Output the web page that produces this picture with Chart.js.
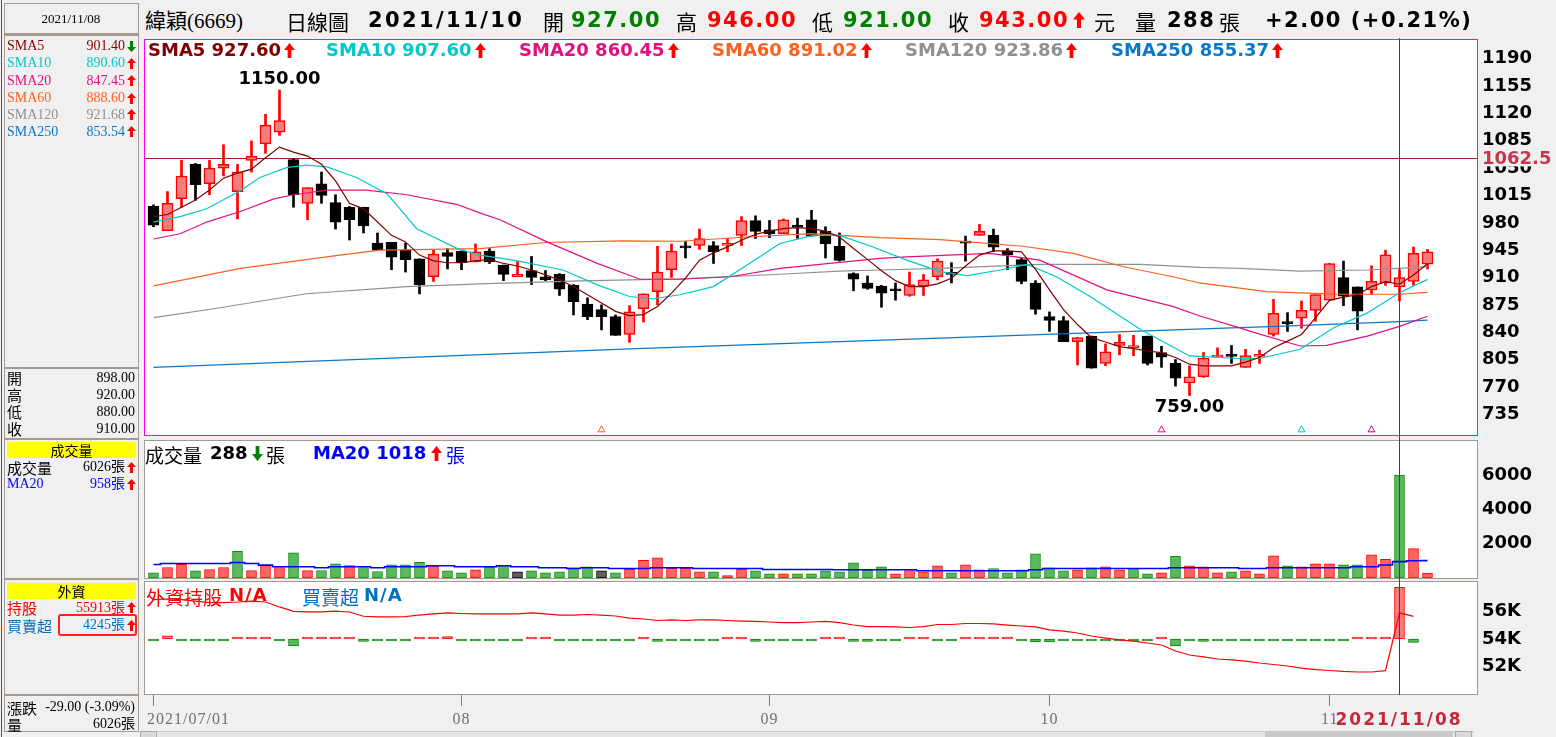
<!DOCTYPE html>
<html lang="zh-Hant"><head><meta charset="utf-8">
<title>緯穎(6669) 日線圖</title>
<script src="https://cdn.jsdelivr.net/npm/chart.js@4.4.1/dist/chart.umd.min.js"></script>
<style>
html,body{margin:0;padding:0}
body{width:1556px;height:737px;background:#f0f0f0;overflow:hidden;position:relative;font-family:"Liberation Serif","Noto Sans CJK TC",serif;color:#000}
canvas{position:absolute;left:140px}
.t{position:absolute;white-space:nowrap;line-height:1}
.bd{font-family:"DejaVu Sans","Noto Sans CJK TC",sans-serif;font-weight:bold}
.cj{font-family:"Noto Sans CJK TC",sans-serif}
.ybox{position:absolute;left:7px;width:129px;height:16px;background:#ffff00;font-family:"Noto Sans CJK TC",sans-serif;font-size:14px;line-height:16px;text-align:center}
</style></head><body>
<canvas id="cP" width="1416" height="405" style="top:35px"></canvas>
<canvas id="cV" width="1416" height="143" style="top:438px"></canvas>
<canvas id="cF" width="1416" height="158" style="top:579px"></canvas>
<div id="ov"></div>
<script>
// ---------------- DATA ----------------
const monthTickIdx = [0, 22, 44, 64, 84];
const monthTickLabels = ['2021/07/01', '08', '09', '10', '11'];
const cursorIdx = 89;
const cursorLabel = '2021/11/08';
const refLine = 1062.5;

const openP = [1001,970,1011,1055,1030,1050,1020,1060,1081,1096, 1061,1005,1030,1006,1000,1000,954,955,945,934, 911,942,944,930,944,926,911,919,911,914, 900,876,869,860,837,870,892,920,949,951, 951,951,964,983,971,966,977,984,969,950, 915,903,899,893,887,899,911,915,955,964, 964,944,933,903,860,855,828,835,800,823, 820,835,814,800,775,783,808,809.5,795,809, 837,851.5,858,868,881,910,898,894,903,898, 905,927];
const highP = [1003,1020,1060,1056,1060,1080,1055,1085,1119,1150, 1062,1025,1045,1016,1001,1000,967,955,954,934, 945,947,944,953,947,926,931,937,919,915, 901,884,875,862,874,889,950,953,956,972, 956,960,988,989,983,985,986,996,975,967, 916,912,900,903,917,914,934,929,963,978, 972,947,935,906,866,860,833,835,825,837, 836,835,822,805,797,814,820,823,818,817, 882,865,880,888,928,931,898,925,945,920, 949,946];
const lowP = [975,970,1000,1009,1016,1040,985,1045,1069,1092, 1000,984,1005,972,958,967,945,920,917,889, 905,921,920,930,928,906,911,901,906,887, 862,856,843,836,827,853,875,910,935,946, 928,943,951,960,961,966,960,963,935,931, 893,895,872,881,886,887,907,903,931,964, 943,920,902,863,841,828,798,794,797,811, 810,798,795,771,759,782,808,800,795,800, 835,841,845,854,881,874,843,888,900,880, 900,921];
const closeP = [977,1005,1040,1029,1050,1055,1045,1065,1105,1111, 1016,1025,1015,981,984,976,945,936,933,901, 940,937,929,943,930,914,914,910,907,895, 879,860,860,836,866,889,917,944,948,960, 943,954,983,969,966,984,974,963,953,932, 908,896,890,893,901,907,931,914,954,969, 949,939,905,869,855,828,833,794,815,827, 823,800,808,781,783,807,810,809,810,810.5, 864,851,868,888,928,886,867,905,939,910, 941,943];

const sma5 = [988,990.7,1000,1009.3,1022,1037.2,1043.6,1048.7,1063.4,1077, 1070.6,1065.5,1055,1033.8,1005,997.9,981,964,955.6,938.7, 931.4,928.9,929,931.4,933.2,928,924.7,919.6,913.3,906.9, 898.4,887.9,877.4,866.7,861.2,862.5,873,890,909.1,932.3, 941.6,949.2,957.7,965.3,969.5,972.5,973.8,972.5,969.5,961.9, 947.1,933.2,918.7,906,898.4,898.4,901.9,909.1,924.7,938.7, 944,944,942.8,920.5,894.2,868.9,849.8,833,827.4,821.5, 819,815.9,813.9,807.6,799,797,797,797,801.7,807.6, 820.2,828.6,837.1,858.3,880.7,885,887.9,898.4,904.8,901.4, 913.3,927.6];
const sma10X = [0,1.9,3.8,6.2,7.6,9.5,10.9,12.4,14.5,16.7,18.8,21.7,23.3,25.7,29.25,31.7,34,35.7,37.6,40,42.4,44.75,47.1,49,51.4,53.8,56.2,58.1,60.5,62.4,64.5,66.9,70.5,74,77.6,79,81.9,84.3,86.7,89,91];
const sma10Y = [981,988,998,1021,1038,1050.7,1054,1051.6,1038,1017,972.5,947,938.7,932.3,919.6,900.6,885.7,882.8,887.9,898.4,926,953.5,964,964,949,932.3,917.5,912.4,919.6,926.8,911,885.7,843.5,809.6,806.3,806.3,818.1,845.6,864.7,890.6,907.6];
const sma20X = [0,1.9,3.8,6.2,8.6,10,12.4,15.2,18.1,21.7,23.3,24.75,28.1,31.7,34.75,37.6,41.2,44.75,48.3,51.9,53.8,59.75,63.3,68.1,72.8,74.8,77.6,78.3,81.9,83.8,86.7,89,91];
const sma20Y = [959.3,966,981,994.5,1010.6,1016,1022,1022,1016,1003.4,992.8,984,955.6,928.1,907.8,907.8,911,921.7,928,934.4,936.5,940.8,932.3,894.2,873,860.4,845.6,841.3,822.3,823.2,835,847.45,860.45];
const sma60X = [0,6.2,13.3,16.2,23.3,28,33.5,37.6,42.4,47,49,51.9,56.2,62.1,65.7,69.3,72.8,74.8,77.6,79.5,84.3,89,91];
const sma60Y = [899.3,921.7,938.7,945,947,954.8,956.8,956.4,961.9,966.2,964,961,958.5,950,940.8,923.8,911,902.7,896.4,892,888.7,888.6,891.02];
const sma120X = [0,4.2,10.9,18.1,23.3,30.5,37.6,44.75,49,51.9,56.2,63.3,70.5,74.8,77.6,81.9,86.7,89,91];
const sma120Y = [858.7,869.7,889.2,898.4,901.9,905.7,908.2,914.2,918.3,919.6,921.7,926.9,926.9,923,921.7,918.3,919.6,921.68,923.86];
const sma250X = [0,34.5,49,77,79.8,89,91];
const sma250Y = [795,819,828,845.6,847,853.54,855.37];

const markerIdx = [32, 72, 82, 87];
const markerVal = [715, 715, 715, 715];

const volume = [305,616,793,422,499,616,1556,440,734,616, 1478,440,440,832,734,616,381,773,773,910, 714,422,305,480,656,734,362,422,305,362, 597,656,422,305,518,1028,1184,577,577,362, 362,147,518,422,245,245,245,245,422,362, 891,480,656,245,440,362,714,305,773,480, 558,305,480,1420,597,422,480,597,656,480, 558,245,305,1262,714,656,305,362,422,245, 1303,714,656,832,832,773,773,1362,1086,6026, 1715,288];
const volMA20 = [793,852,852,852,852,852,910,852,754,656, 656,656,597,656,656,656,597,656,656,656, 714,714,656,656,656,714,656,656,597,597, 558,597,597,558,558,558,597,597,597,558, 558,558,558,558,499,499,499,499,499,480, 480,480,480,480,480,422,422,422,422,422, 422,422,422,480,558,558,558,558,558,558, 558,558,558,597,597,597,597,597,558,558, 597,597,597,597,597,597,656,656,760,958, 1005,1018];

const frgHold = [56870,56920,56880,56770,56660,56660,56700,56770,56700,56340, 56020,55980,55980,56040,55970,55660,55610,55610,55640,55750, 55830,55900,55860,55830,55830,55830,55830,55900,55830,55750, 55750,55790,55750,55680,55530,55460,55350,55390,55350,55390, 55390,55350,55310,55280,55240,55200,55200,55240,55280,55200, 55020,54910,54910,54880,54840,54910,55060,55060,55130,55130, 55100,55020,54950,54880,54660,54580,54440,54220,54070,53930, 53850,53710,53560,53120,52830,52690,52540,52470,52390,52250, 52140,52030,51880,51770,51700,51630,51590,51590,51690,55913, 55650,null];
const frgNet = [-60,250,-60,-60,-60,-120,60,60,60,-60, -570,60,60,60,60,-200,-60,-60,-60,60, 60,200,-60,-60,-60,-60,-60,60,60,-60, -60,-60,-60,-60,-60,60,-200,-60,-60,-60, -60,60,60,-200,-60,-60,-60,-60,60,60, -200,-200,-60,-60,60,60,-60,-60,60,60, 60,60,-60,-250,-250,-60,-150,-150,-60,-60, -60,-60,60,-560,-60,-200,-60,-60,-60,-60, -60,-150,-150,-150,-60,-60,60,60,60,4245, -280,null];

const priceTicks = [735,770,805,840,875,910,945,980,1015,1050,1085,1120,1155,1190];
const volTicks = [2000,4000,6000];
const frgTicks = [52000,54000,56000];

// ---------------- HELPERS ----------------
const ov = document.getElementById('ov');
function T(x, cy, size, txt, o) {
  o = o || {};
  const s = document.createElement('span');
  s.className = 't ' + (o.cls || '');
  s.style.fontSize = size + 'px';
  s.style.top = (cy - size / 2) + 'px';
  if (o.right) s.style.right = (1556 - x) + 'px';
  else s.style.left = x + 'px';
  if (o.color) s.style.color = o.color;
  if (o.ls) s.style.letterSpacing = o.ls + 'px';
  if (o.bg) s.style.background = o.bg;
  s.textContent = txt;
  ov.appendChild(s);
  if (o.center) { s.style.left = (x - s.offsetWidth / 2) + 'px'; }
  return s;
}
function ARW(x, cy, up, color, w, h) {
  w = w || 10; h = h || 13;
  const ns = 'http://www.w3.org/2000/svg';
  const svg = document.createElementNS(ns, 'svg');
  svg.setAttribute('width', w); svg.setAttribute('height', h);
  svg.setAttribute('viewBox', '0 0 10 13'); svg.setAttribute('preserveAspectRatio', 'none');
  svg.style.position = 'absolute'; svg.style.left = x + 'px'; svg.style.top = (cy - h / 2) + 'px';
  const p = document.createElementNS(ns, 'path');
  p.setAttribute('d', up ? 'M5 0L10 6H6.7V13H3.3V6H0Z' : 'M5 13L10 7H6.7V0H3.3V7H0Z');
  p.setAttribute('fill', color);
  svg.appendChild(p); ov.appendChild(svg);
}
function BOX(x, y, w, h, css) {
  const d = document.createElement('div');
  d.style.cssText = 'position:absolute;left:' + x + 'px;top:' + y + 'px;width:' + w + 'px;height:' + h + 'px;' + css;
  ov.appendChild(d); return d;
}

const C_SMA = ['#800000', '#00c8c8', '#e0107f', '#ff6020', '#909090', '#0a78c8'];
const GREEN = '#008000', RED = '#ff0000', BORDER = '#a39b93';

// ---------------- HEADER ----------------
T(145, 21, 21, '緯穎(6669)');
T(286, 21, 21, '日線圖', {cls: 'cj'});
T(368, 20, 21, '2021/11/10', {cls: 'bd', ls: 2.4});
T(543, 21, 21, '開', {cls: 'cj'});
T(571, 20, 21, '927.00', {cls: 'bd', ls: 1.5, color: GREEN});
T(676, 21, 21, '高', {cls: 'cj'});
T(707, 20, 21, '946.00', {cls: 'bd', ls: 1.5, color: RED});
T(812, 21, 21, '低', {cls: 'cj'});
T(843, 20, 21, '921.00', {cls: 'bd', ls: 1.5, color: GREEN});
T(948, 21, 21, '收', {cls: 'cj'});
T(979, 20, 21, '943.00', {cls: 'bd', ls: 1.5, color: RED});
ARW(1073, 20, true, RED, 12, 16);
T(1094, 21, 21, '元', {cls: 'cj'});
T(1135, 21, 21, '量', {cls: 'cj'});
T(1167, 20, 21, '288', {cls: 'bd', ls: 1.5});
T(1219, 21, 21, '張', {cls: 'cj'});
T(1265, 20, 21, '+2.00 (+0.21%)', {cls: 'bd', ls: 1.5});

// ---------------- LEFT PANEL ----------------
BOX(1, 0, 1, 737, 'background:#d42020');
BOX(4, 3, 133, 29, 'border:1px solid ' + BORDER);
T(71, 18, 13, '2021/11/08', {center: true});
BOX(4, 34, 1, 698, 'background:' + BORDER);
BOX(138, 34, 1, 698, 'background:' + BORDER);
[34, 367, 438, 578, 694].forEach(y => BOX(4, y, 135, 2, 'background:' + BORDER));
BOX(4, 731, 135, 1, 'background:' + BORDER);
const smaNames = ['SMA5', 'SMA10', 'SMA20', 'SMA60', 'SMA120', 'SMA250'];
const smaPanelVals = ['901.40', '890.60', '847.45', '888.60', '921.68', '853.54'];
const smaRowY = [46, 63.3, 80.7, 98, 114.7, 131.7];
smaNames.forEach((n, k) => {
  T(7, smaRowY[k], 14, n, {color: C_SMA[k]});
  T(125, smaRowY[k], 14, smaPanelVals[k], {right: true, color: C_SMA[k]});
  ARW(127, smaRowY[k], k !== 0, k === 0 ? GREEN : RED, 9, 11);
});
[['開', '898.00', 377.5], ['高', '920.00', 394.5], ['低', '880.00', 411.5], ['收', '910.00', 428.5]].forEach(r => {
  T(7, r[2], 15, r[0], {cls: 'cj'});
  T(135, r[2], 14, r[1], {right: true});
});
let yb = BOX(7, 442, 129, 16, ''); yb.className = 'ybox'; yb.textContent = '成交量';
T(7, 467, 15, '成交量', {cls: 'cj'});
T(125, 467, 14, '6026張', {right: true});
ARW(127, 467, true, RED, 9, 11);
T(7, 484, 14, 'MA20', {color: '#0000ff'});
T(125, 484, 14, '958張', {right: true, color: '#0000ff'});
ARW(127, 484, true, RED, 9, 11);
yb = BOX(7, 583, 129, 16, ''); yb.className = 'ybox'; yb.textContent = '外資';
T(7, 607.5, 15, '持股', {cls: 'cj', color: RED});
T(125, 607.5, 14, '55913張', {right: true, color: RED});
ARW(127, 607.5, true, RED, 9, 11);
T(7, 625, 15, '買賣超', {cls: 'cj', color: '#0070c0'});
BOX(58, 614, 75, 18, 'border:2px solid #ff2020;border-radius:3px');
T(125, 625, 14, '4245張', {right: true, color: '#0070c0'});
ARW(127, 625, true, RED, 9, 11);
T(7, 707, 15, '漲跌', {cls: 'cj'});
T(135, 707, 14, '-29.00 (-3.09%)', {right: true});
T(7, 724, 15, '量', {cls: 'cj'});
T(135, 724, 14, '6026張', {right: true});

// ---------------- CHARTS ----------------
Chart.defaults.font.family = 'DejaVu Sans';
const XMIN = -0.607, XMAX = 94.536;
const xAxis = {type: 'linear', min: XMIN, max: XMAX, display: false, offset: false};
const tickFont = {family: 'DejaVu Sans', size: 18, weight: 'bold'};
function rightAxis(min, max, ticks, fmt) {
  return {
    type: 'linear', position: 'right', min: min, max: max,
    grid: {display: false, drawTicks: false}, border: {display: false},
    ticks: {padding: 5, color: '#000', font: tickFont, autoSkip: false, callback: v => fmt(v)},
    afterBuildTicks: s => { s.ticks = ticks.map(v => ({value: v})); },
    afterFit: s => { s.width = 79; s.paddingTop = 0; s.paddingBottom = 0; }
  };
}
const areaBg = {id: 'areaBg', beforeDraw(c) { const a = c.chartArea, x = c.ctx; x.save(); x.fillStyle = '#ffffff'; x.fillRect(a.left, a.top, a.right - a.left, a.bottom - a.top); x.restore(); }};
function frame(color) {
  return {id: 'frame', afterDraw(c) { const a = c.chartArea, x = c.ctx; x.save(); x.strokeStyle = color; x.lineWidth = 1; x.strokeRect(a.left - 0.5, a.top - 0.5, a.right - a.left + 1, a.bottom - a.top + 1); x.restore(); }};
}
const baseOpts = {responsive: false, animation: false, devicePixelRatio: 1, events: [],
  plugins: {legend: {display: false}, tooltip: {enabled: false}}};

const idx = closeP.map((_, i) => i);
const isUp = i => closeP[i] > openP[i];
const pts = (X, Y) => X.map((x, k) => ({x: x, y: Y[k]}));
const maSets = [
  sma5.map((v, i) => ({x: i, y: v})), pts(sma10X, sma10Y), pts(sma20X, sma20Y),
  pts(sma60X, sma60Y), pts(sma120X, sma120Y), pts(sma250X, sma250Y)
];
const hiVal = Math.max.apply(null, highP), hiIdx = highP.indexOf(hiVal);
const loVal = Math.min.apply(null, lowP), loIdx = lowP.indexOf(loVal);

const priceExtras = {id: 'pext',
  beforeDatasetsDraw(c) {
    const x = c.ctx, a = c.chartArea, y = Math.round(c.scales.y.getPixelForValue(refLine)) + 0.5;
    x.save(); x.strokeStyle = '#a02020'; x.lineWidth = 1; x.beginPath(); x.moveTo(a.left, y); x.lineTo(a.right, y); x.stroke(); x.restore();
  },
  afterDraw(c) {
    const x = c.ctx, a = c.chartArea, sx = c.scales.x, sy = c.scales.y;
    x.save();
    x.font = 'bold 18px "DejaVu Sans"'; x.fillStyle = '#000'; x.textAlign = 'center'; x.textBaseline = 'middle';
    x.fillText(hiVal.toFixed(2), sx.getPixelForValue(hiIdx), sy.getPixelForValue(hiVal) - 11);
    x.fillText(loVal.toFixed(2), sx.getPixelForValue(loIdx), sy.getPixelForValue(loVal) + 12);
    const ry = sy.getPixelForValue(refLine);
    x.fillStyle = '#f0f0f0'; x.fillRect(a.right + 1, ry - 9, 80, 17);
    x.fillStyle = '#c8344a'; x.textAlign = 'left';
    x.fillText(String(refLine), a.right + 5, ry + 1);
    x.restore();
  }
};

const priceChart = new Chart(document.getElementById('cP'), {
  type: 'bar',
  data: {datasets: [
    ...maSets.map((d, k) => ({type: 'line', data: d, borderColor: C_SMA[k], borderWidth: 1.2, pointRadius: 0, fill: false, tension: 0, order: 1})),
    {type: 'scatter', data: markerIdx.map((m, k) => ({x: m, y: markerVal[k]})), pointStyle: 'triangle', pointRadius: 4,
      backgroundColor: '#ffffff', borderColor: ['#ff6020', '#e0107f', '#00c8c8', '#b0105f'], borderWidth: 1, order: 2},
    {type: 'bar', data: idx.map(i => ({x: i, y: [openP[i], closeP[i]]})), barThickness: 11, grouped: false, minBarLength: 2,
      backgroundColor: idx.map(i => isUp(i) ? '#f47c7c' : '#000000'), borderColor: idx.map(i => isUp(i) ? '#ff0000' : '#000000'),
      borderWidth: 1.5, borderSkipped: false, order: 3},
    {type: 'bar', data: idx.map(i => ({x: i, y: [lowP[i], highP[i]]})), barThickness: 2, grouped: false,
      backgroundColor: idx.map(i => isUp(i) ? '#ff0000' : '#000000'), borderWidth: 0, order: 4}
  ]},
  options: Object.assign({}, baseOpts, {
    layout: {padding: {left: 5, top: 3, bottom: 3, right: 0}},
    scales: {x: xAxis, y: rightAxis(708.38, 1214.08, priceTicks, v => String(v))}
  }),
  plugins: [areaBg, priceExtras, frame('#ff00ff')]
});

const volColor = idx.map(i => {
  const prev = i === 0 ? openP[0] : closeP[i - 1];
  return closeP[i] > prev ? 'up' : (closeP[i] < prev ? 'dn' : 'eq');
});
const volChart = new Chart(document.getElementById('cV'), {
  type: 'bar',
  data: {datasets: [
    {type: 'line', data: volMA20.map((v, i) => ({x: i, y: v})), stepped: 'middle', borderColor: '#0000ff', borderWidth: 1.6, pointRadius: 0, fill: false, order: 1},
    {type: 'bar', data: volume.map((v, i) => ({x: i, y: v})), barThickness: 10, grouped: false,
      backgroundColor: volColor.map(c => c === 'up' ? '#ff6464' : (c === 'dn' ? '#5cb85c' : '#606060')),
      borderColor: volColor.map(c => c === 'up' ? '#ff0000' : (c === 'dn' ? '#108a10' : '#000000')),
      borderWidth: 1, borderSkipped: false, order: 2}
  ]},
  options: Object.assign({}, baseOpts, {
    layout: {padding: {left: 5, top: 3, bottom: 3, right: 0}},
    scales: {x: xAxis, y: rightAxis(0, 8016, volTicks, v => String(v))}
  }),
  plugins: [areaBg, frame(BORDER)]
});

const frgChart = new Chart(document.getElementById('cF'), {
  type: 'bar',
  data: {datasets: [
    {type: 'line', yAxisID: 'y', data: frgHold.map((v, i) => ({x: i, y: v})), borderColor: '#ff0000', borderWidth: 1.2, pointRadius: 0, fill: false, tension: 0, spanGaps: false, order: 1},
    {type: 'bar', yAxisID: 'yN', data: frgNet.map((v, i) => ({x: i, y: v})), barThickness: 10, grouped: false, minBarLength: 2,
      backgroundColor: frgNet.map(v => v > 0 ? '#f47c7c' : '#5cb85c'), borderColor: frgNet.map(v => v > 0 ? '#ff0000' : '#008000'),
      borderWidth: 1, borderSkipped: false, order: 2}
  ]},
  options: Object.assign({}, baseOpts, {
    layout: {padding: {left: 5, top: 3, bottom: 43, right: 0}},
    scales: {x: xAxis, y: rightAxis(49985, 58161, frgTicks, v => (v / 1000) + 'K'),
      yN: {type: 'linear', display: false, min: -4516, max: 4680}}
  }),
  plugins: [areaBg, frame(BORDER)]
});

// ---------------- LEGENDS ----------------
const smaLegendX = [148, 326, 519, 712, 905, 1111];
const smaLegendVals = ['927.60', '907.60', '860.45', '891.02', '923.86', '855.37'];
smaNames.forEach((n, k) => {
  const s = T(smaLegendX[k], 50, 18, n + ' ' + smaLegendVals[k], {cls: 'bd', color: C_SMA[k]});
  ARW(smaLegendX[k] + s.offsetWidth + 3, 50, true, RED, 11, 15);
});
T(145, 454, 19, '成交量', {cls: 'cj'});
T(210, 453, 18, '288', {cls: 'bd'});
ARW(252, 453, false, GREEN, 11, 15);
T(266, 454, 19, '張', {cls: 'cj'});
T(313, 453, 18, 'MA20 1018', {cls: 'bd', color: '#0000ff'});
ARW(431, 453, true, RED, 11, 15);
T(446, 454, 19, '張', {cls: 'cj', color: '#0000ff'});
T(146, 596, 19, '外資持股', {cls: 'cj', color: RED});
T(229, 595, 18, 'N/A', {cls: 'bd', color: RED, ls: 1});
T(302, 596, 19, '買賣超', {cls: 'cj', color: '#0070c0'});
T(364, 595, 18, 'N/A', {cls: 'bd', color: '#0070c0', ls: 1});

// ---------------- X AXIS & CURSOR ----------------
const fx = frgChart.scales.x;
monthTickIdx.forEach((m, k) => {
  const px = 140 + fx.getPixelForValue(m);
  BOX(Math.round(px), 695, 1, 11, 'background:#808080');
  const s = T(px, 719, 16, monthTickLabels[k], {color: '#707070', ls: 1});
  s.style.left = Math.max(147, px - s.offsetWidth / 2) + 'px';
});
const cx = Math.round(140 + priceChart.scales.x.getPixelForValue(cursorIdx));
BOX(cx, 38, 1, 657, 'background:#a01818');
T(cx, 719, 17, cursorLabel, {cls: 'bd', color: '#c0283c', ls: 2, center: true, bg: '#f0f0f0'});

// scrollbar
BOX(140, 731, 1334, 6, 'background:#e6e6e6;border-top:1px solid #c8c8c8');
BOX(140, 731, 15, 6, 'background:#dadada;border:1px solid #a8a8a8');
BOX(1265, 732, 188, 5, 'background:#cacaca');
BOX(1455, 731, 15, 6, 'background:#dadada;border:1px solid #a8a8a8');
</script>
</body></html>
